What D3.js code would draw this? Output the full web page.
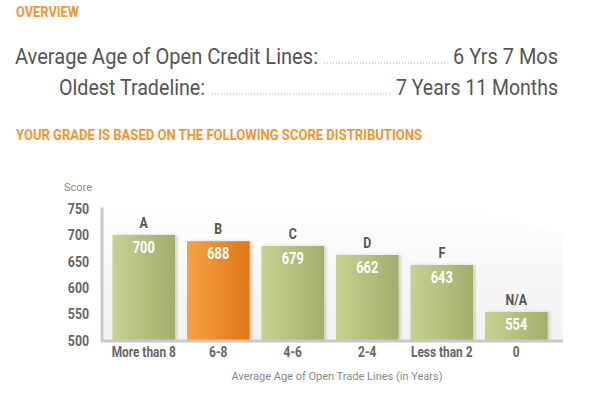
<!DOCTYPE html>
<html>
<head>
<meta charset="utf-8">
<script src="https://cdn.jsdelivr.net/npm/d3@7"></script>
<style>
  body { margin: 0; background: #fff; }
  svg { display: block; }
  text { font-family: Roboto, "Liberation Sans", Arial, sans-serif; }
</style>
</head>
<body>
<svg id="mysvg" width="600" height="394"></svg>
<script>
// overview rows
const overviewLabels = ["Average Age of Open Credit Lines:", "Oldest Tradeline:"];
const overviewValues = ["6 Yrs 7 Mos", "7 Years 11 Months"];

// chart data
const grades = ["A", "B", "C", "D", "F", "N/A"];
const categories = ["More than 8", "6-8", "4-6", "2-4", "Less than 2", "0"];
const scores = [700, 688, 679, 662, 643, 554];
const yourCategory = "6-8";
const yTicks = [500, 550, 600, 650, 700, 750];

const data = categories.map((c, i) => ({ cat: c, grade: grades[i], score: scores[i] }));

const svg = d3.select("#mysvg");
const orange = "#f0952f";

// squeeze text horizontally to look like a condensed face
function condense(sel, k) {
  sel.each(function () {
    const w = this.getComputedTextLength();
    d3.select(this).attr("textLength", w * k).attr("lengthAdjust", "spacingAndGlyphs");
  });
}

const defs = svg.append("defs");
const gGreen = defs.append("linearGradient").attr("id", "green").attr("x1", 0).attr("x2", 1);
gGreen.append("stop").attr("offset", 0).attr("stop-color", "#c6d28f");
gGreen.append("stop").attr("offset", 1).attr("stop-color", "#a2ae6b");
const gOrange = defs.append("linearGradient").attr("id", "orange").attr("x1", 0).attr("x2", 1);
gOrange.append("stop").attr("offset", 0).attr("stop-color", "#f6a343");
gOrange.append("stop").attr("offset", 1).attr("stop-color", "#df7616");
const gBg = defs.append("linearGradient").attr("id", "bg").attr("x1", 0).attr("x2", 0).attr("y1", 0).attr("y2", 1);
gBg.append("stop").attr("offset", 0).attr("stop-color", "#ffffff");
gBg.append("stop").attr("offset", 0.5).attr("stop-color", "#f7f7f7");
gBg.append("stop").attr("offset", 1).attr("stop-color", "#f2f2f2");
const shadow = defs.append("filter").attr("id", "shadow").attr("x", "-10%").attr("y", "-10%").attr("width", "130%").attr("height", "120%");
shadow.append("feDropShadow").attr("dx", 2).attr("dy", 0).attr("stdDeviation", 1.5)
  .attr("flood-color", "#000").attr("flood-opacity", 0.18);

// headings
svg.append("text").attr("x", 16).attr("y", 17)
  .attr("font-size", 14).attr("font-weight", "bold").attr("fill", orange)
  .attr("textLength", 63).attr("lengthAdjust", "spacingAndGlyphs").text("OVERVIEW");

svg.append("text").attr("x", 16).attr("y", 140)
  .attr("font-size", 14).attr("font-weight", "bold").attr("fill", orange)
  .attr("textLength", 406).attr("lengthAdjust", "spacingAndGlyphs")
  .text("YOUR GRADE IS BASED ON THE FOLLOWING SCORE DISTRIBUTIONS");

// overview rows: label, dotted leader, value
const rows = [
  { x0: 15, x1: 318, d0: 324, d1: 447, v0: 453, y: 64 },
  { x0: 59, x1: 205, d0: 212, d1: 390, v0: 396, y: 95 }
];
rows.forEach((r, i) => {
  svg.append("text").attr("x", r.x0).attr("y", r.y)
    .attr("font-size", 22).attr("fill", "#555")
    .attr("textLength", r.x1 - r.x0).attr("lengthAdjust", "spacingAndGlyphs")
    .text(overviewLabels[i]);
  svg.append("line").attr("x1", r.d0).attr("x2", r.d1).attr("y1", r.y - 1).attr("y2", r.y - 1)
    .attr("stroke", "#aaa").attr("stroke-width", 1).attr("stroke-dasharray", "1,2");
  svg.append("text").attr("x", r.v0).attr("y", r.y)
    .attr("font-size", 22).attr("fill", "#555")
    .attr("textLength", 558 - r.v0).attr("lengthAdjust", "spacingAndGlyphs")
    .text(overviewValues[i]);
});

// scales
const x = d3.scaleBand().domain(categories).range([105, 555]).paddingInner(0.16).paddingOuter(0.1);
const y = d3.scaleLinear().domain([500, 750]).range([340.5, 208.5]);

// faint backdrop behind bars
svg.append("path")
  .attr("d", `M103,${y(752)} L470,${y(752)} L563,${y(700)} L563,${y(500)} L103,${y(500)} Z`)
  .attr("fill", "url(#bg)");

// left axis line
svg.append("line").attr("x1", 102).attr("x2", 102).attr("y1", y(752)).attr("y2", y(500) + 1)
  .attr("stroke", "#c9c9c9").attr("stroke-width", 3);

// bars
svg.selectAll(".bar").data(data).join("rect").attr("class", "bar")
  .attr("x", d => x(d.cat))
  .attr("y", d => y(d.score))
  .attr("width", x.bandwidth())
  .attr("height", d => y(500) - y(d.score))
  .attr("fill", d => d.cat === yourCategory ? "url(#orange)" : "url(#green)")
  .attr("filter", "url(#shadow)");

svg.append("line").attr("x1", 101).attr("x2", 563).attr("y1", y(500) + 0.5).attr("y2", y(500) + 0.5)
  .attr("stroke", "#c9c9c9").attr("stroke-width", 3);

// y axis
const yAxis = svg.append("g").attr("transform", "translate(101,0)")
  .call(d3.axisLeft(y).tickValues(yTicks).tickSize(0).tickPadding(12));
yAxis.select(".domain").remove();
yAxis.selectAll("text").attr("font-size", 15).attr("font-weight", "bold")
  .attr("fill", "#666").attr("font-family", null).call(condense, 0.82);

svg.append("text").attr("x", 64).attr("y", 191)
  .attr("font-size", 11).attr("fill", "#8a8a8a").text("Score");

// grade letters
svg.selectAll(".grade").data(data).join("text").attr("class", "grade")
  .attr("x", d => x(d.cat) + x.bandwidth() / 2)
  .attr("y", d => y(d.score) - 7)
  .attr("text-anchor", "middle").attr("font-size", 15).attr("font-weight", "bold")
  .attr("fill", "#555").text(d => d.grade).call(condense, 0.82);

// value labels
svg.selectAll(".val").data(data).join("text").attr("class", "val")
  .attr("x", d => x(d.cat) + x.bandwidth() / 2)
  .attr("y", d => y(d.score) + 18)
  .attr("text-anchor", "middle").attr("font-size", 16).attr("font-weight", "bold")
  .attr("fill", "#fff").text(d => d.score).call(condense, 0.8);

// x axis labels
const xAxis = svg.append("g").attr("transform", `translate(0,${y(500)})`)
  .call(d3.axisBottom(x).tickSize(0).tickPadding(6));
xAxis.select(".domain").remove();
xAxis.selectAll("text").attr("font-size", 14.5).attr("font-weight", "bold")
  .attr("fill", "#666").attr("font-family", null).call(condense, 0.82);

svg.append("text").attr("x", 337).attr("y", 380).attr("text-anchor", "middle")
  .attr("font-size", 11).attr("fill", "#888")
  .text("Average Age of Open Trade Lines (in Years)");
</script>
</body>
</html>
